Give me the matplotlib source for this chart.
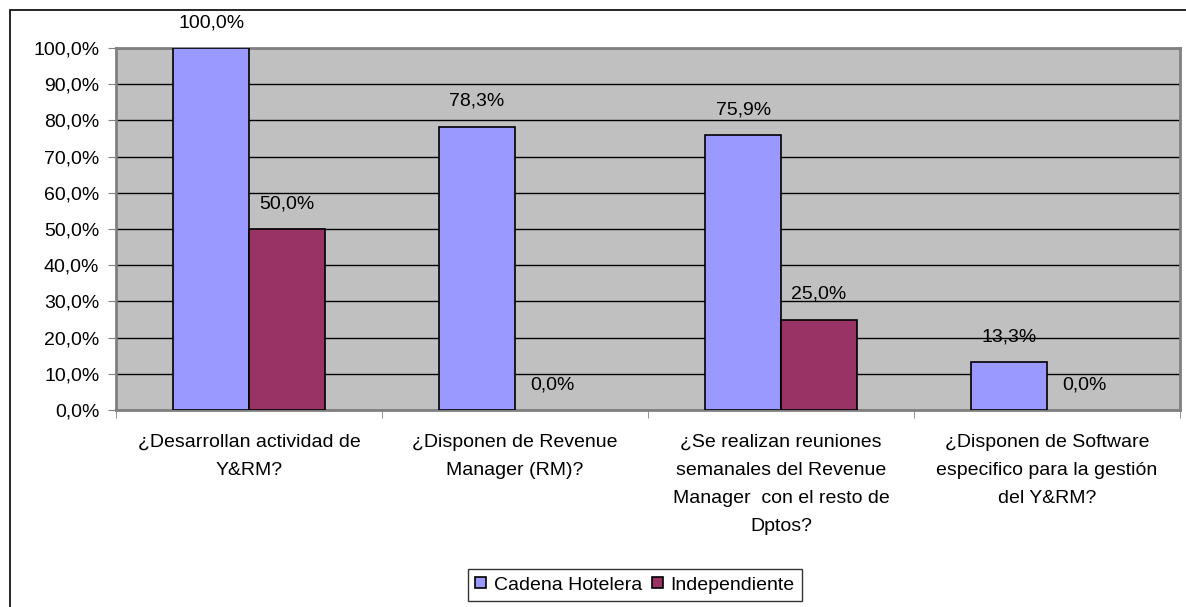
import matplotlib.pyplot as plt
import numpy as np
from matplotlib.patches import Rectangle
from matplotlib.ticker import FuncFormatter, MultipleLocator

categories = [
    "¿Desarrollan actividad de\nY&RM?",
    "¿Disponen de Revenue\nManager (RM)?",
    "¿Se realizan reuniones\nsemanales del Revenue\nManager  con el resto de\nDptos?",
    "¿Disponen de Software\nespecifico para la gestión\ndel Y&RM?",
]
series_names = ["Cadena Hotelera", "Independiente"]
cadena = [100.0, 78.3, 75.9, 13.3]
independiente = [50.0, 0.0, 25.0, 0.0]

plt.rcParams["font.family"] = ["Liberation Sans", "DejaVu Sans"]
plt.rcParams["font.size"] = 14


def pct(v):
    return f"{v:.1f}%".replace(".", ",")


fig = plt.figure(figsize=(11.86, 6.07), dpi=100)
ax = fig.add_axes([116 / 1186, 1 - 410 / 607, (1180 - 116) / 1186, (410 - 48) / 607])

# outer chart frame
fig.patches.append(Rectangle((10 / 1186, -0.1), 1.2, 1 - 10 / 607 + 0.1,
                             transform=fig.transFigure, fill=False,
                             edgecolor="black", linewidth=1.2))

x = np.arange(len(categories))
w = 0.285
b1 = ax.bar(x - w / 2, cadena, w, color="#9999FF", edgecolor="black",
            linewidth=1.2, label=series_names[0], zorder=3)
b2 = ax.bar(x + w / 2, independiente, w, color="#993366", edgecolor="black",
            linewidth=1.2, label=series_names[1], zorder=3)

for bars, vals in [(b1, cadena), (b2, independiente)]:
    for bar, v in zip(bars, vals):
        if v == 0:
            bar.set_linewidth(0)
        ax.annotate(pct(v), (bar.get_x() + bar.get_width() / 2, v),
                    xytext=(0, 12), textcoords="offset points",
                    ha="center", va="bottom")

ax.set_facecolor("#C0C0C0")
ax.set_ylim(0, 100)
ax.set_xlim(-0.5, len(categories) - 0.5)
ax.yaxis.set_major_locator(MultipleLocator(10))
ax.yaxis.set_major_formatter(FuncFormatter(lambda v, p: pct(v)))
ax.grid(axis="y", color="black", linewidth=1, zorder=0)
ax.set_axisbelow(True)

ax.set_xticks(x)
ax.set_xticklabels(categories, linespacing=1.85)
ax.set_xticks(np.arange(-0.5, len(categories)), minor=True)
ax.tick_params(axis="x", which="major", length=0, pad=17)
ax.tick_params(axis="x", which="minor", length=6, color="#808080")
ax.tick_params(axis="y", length=6, color="#808080", pad=6)

for side, sp in ax.spines.items():
    sp.set_color("#808080")
    sp.set_linewidth(2)

fig.legend(handles=[b1, b2], labels=series_names, loc="center",
           bbox_to_anchor=(635 / 1186, 1 - 585 / 607), ncol=2,
           frameon=True, fancybox=False, edgecolor="black",
           handlelength=0.55, handleheight=0.55, handletextpad=0.4,
           columnspacing=0.5, borderpad=0.4, borderaxespad=0)

fig.savefig("out.png", dpi=100)
